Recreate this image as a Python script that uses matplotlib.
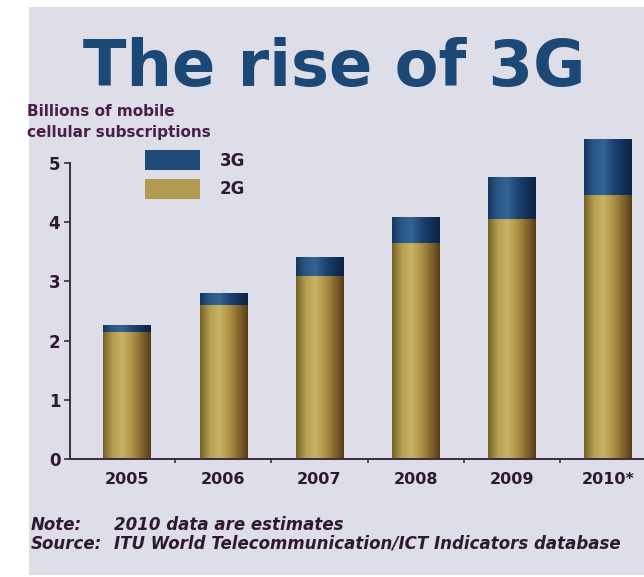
import matplotlib
matplotlib.use("Agg")
import matplotlib.pyplot as plt
import numpy as np
from matplotlib.colors import LinearSegmentedColormap
from matplotlib.patches import Rectangle

# data (billions of mobile cellular subscriptions)
years = ["2005", "2006", "2007", "2008", "2009", "2010*"]
subs_2g = [2.15, 2.60, 3.09, 3.65, 4.05, 4.46]
subs_3g = [0.11, 0.20, 0.32, 0.44, 0.71, 0.95]
y_ticks = [0, 1, 2, 3, 4, 5]

W, H = 644, 577
txt_col = "#2e1a30"

fig = plt.figure(figsize=(W / 100, H / 100), dpi=100)
fig.patch.set_facecolor("white")
# grey panel behind everything
fig.add_artist(Rectangle((29 / W, 2 / H), (W - 29) / W, (H - 9) / H,
                         transform=fig.transFigure, facecolor="#dddee7",
                         edgecolor="none", zorder=-5))

# axes placed in pixels: x axis at y=459, 59.2 px per unit
ax = fig.add_axes([70 / W, (H - 459) / H, (W - 70) / W, 5.5 * 59.2 / H])
ax.patch.set_alpha(0)

x = np.arange(len(years))
b2 = ax.bar(x, subs_2g, width=0.49, color="#b39c52", label="2G", zorder=2)
b3 = ax.bar(x, subs_3g, width=0.49, bottom=subs_2g, color="#1f4a7a",
            label="3G", zorder=2)

# cylinder-like shading clipped to each bar
gold = LinearSegmentedColormap.from_list(
    "gold", ["#75602a", "#b39d52", "#c8b264", "#b09548", "#86682e", "#583c1a"])
blue = LinearSegmentedColormap.from_list(
    "blue", ["#14365e", "#2a5686", "#356492", "#1e4576", "#13315c", "#0b2140"])
grad = np.linspace(0, 1, 256).reshape(1, -1)
for cont, cmap in [(b2, gold), (b3, blue)]:
    for p in cont.patches:
        bx, by = p.get_x(), p.get_y()
        bw, bh = p.get_width(), p.get_height()
        im = ax.imshow(grad, cmap=cmap, aspect="auto", zorder=3,
                       extent=[bx, bx + bw, by, by + bh])
        im.set_clip_path(p)

ax.set_xlim(-0.593, 5.374)
ax.set_ylim(0, 5.5)

for s in ["top", "right"]:
    ax.spines[s].set_visible(False)
ax.spines["left"].set_bounds(0, 5)
for s in ["left", "bottom"]:
    ax.spines[s].set_color("#3c2c3e")
    ax.spines[s].set_linewidth(1.4)
    ax.spines[s].set_zorder(4)

ax.set_yticks(y_ticks)
ax.set_xticks(x)
ax.set_xticklabels(years)
ax.set_xticks(x[:-1] + 0.5, minor=True)
ax.tick_params(axis="y", length=4, width=1.2, color="#3c2c3e", pad=3,
               labelsize=12, labelcolor=txt_col)
ax.tick_params(axis="x", which="major", length=0, pad=9,
               labelsize=11.5, labelcolor=txt_col)
ax.tick_params(axis="x", which="minor", length=3, width=1.2, color="#3c2c3e")
for lab in ax.get_xticklabels() + ax.get_yticklabels():
    lab.set_fontweight("bold")

leg = ax.legend(handles=[b3, b2], labels=["3G", "2G"], loc="upper left",
                bbox_to_anchor=(145 / W, 1 - 150 / H),
                bbox_transform=fig.transFigure, frameon=False, fontsize=12,
                handlelength=3.3, handleheight=1.5, labelspacing=0.5,
                handletextpad=1.2, borderpad=0, borderaxespad=0,
                labelcolor=txt_col)
for t in leg.get_texts():
    t.set_fontweight("bold")

fig.text(334 / W, 1 - 86 / H, "The rise of 3G", ha="center", va="baseline",
         fontsize=46, fontweight="heavy", color="#1c4876")

fig.text(27 / W, 1 - 122 / H, "Billions of mobile\ncellular subscriptions",
         ha="left", va="center", fontsize=11, fontweight="bold",
         color="#4a1f44", linespacing=1.45)

foot = dict(ha="left", va="center", fontsize=12, style="italic",
            fontweight="bold", color=txt_col)
fig.text(31 / W, 1 - 525 / H, "Note:", **foot)
fig.text(114 / W, 1 - 525 / H, "2010 data are estimates", **foot)
fig.text(31 / W, 1 - 544 / H, "Source:", **foot)
fig.text(114 / W, 1 - 544 / H,
         "ITU World Telecommunication/ICT Indicators database", **foot)

fig.savefig("out.png", dpi=100)
